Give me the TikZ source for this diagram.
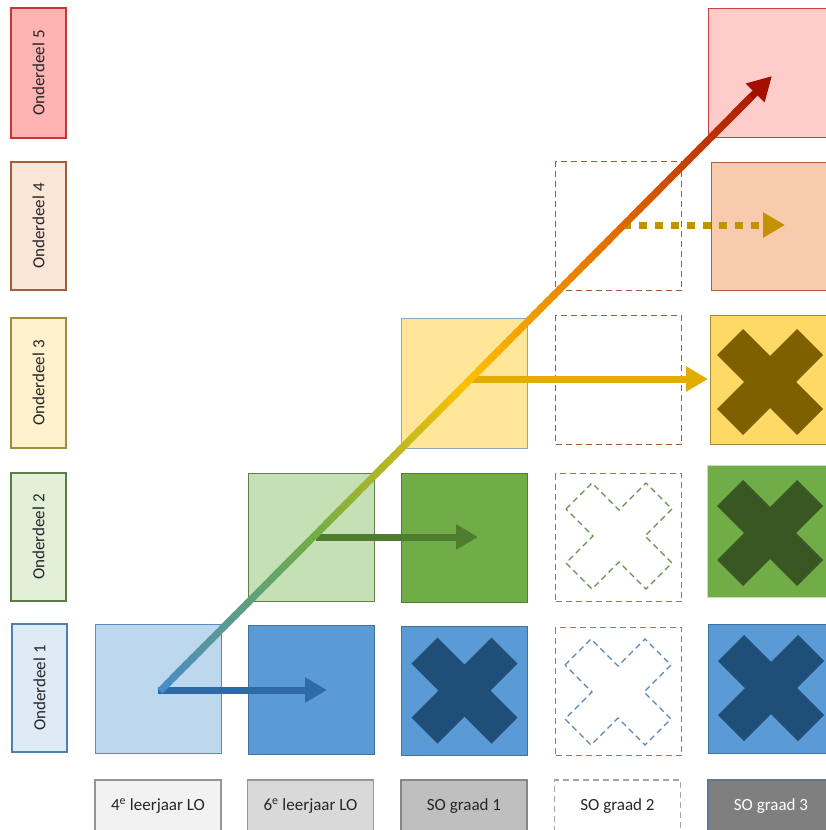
\documentclass[tikz,border=0pt]{standalone}
\usepackage{fontspec}
\setmainfont{Carlito}
\usetikzlibrary{arrows.meta,calc}
\definecolor{txt}{HTML}{262626}
\definecolor{lab5f}{HTML}{FFB3B3}\definecolor{lab5d}{HTML}{CC3333}
\definecolor{lab4f}{HTML}{FBE5D6}\definecolor{lab4d}{HTML}{A0603A}
\definecolor{lab3f}{HTML}{FFF2CC}\definecolor{lab3d}{HTML}{A08C3C}
\definecolor{lab2f}{HTML}{E2F0D9}\definecolor{lab2d}{HTML}{5A7D45}
\definecolor{lab1f}{HTML}{DEEBF7}\definecolor{lab1d}{HTML}{4F7FB0}
\definecolor{bluL}{HTML}{BDD7EE}\definecolor{bluLd}{HTML}{5B8AC0}
\definecolor{bluM}{HTML}{5B9BD5}\definecolor{bluMd}{HTML}{41719C}
\definecolor{bluX}{HTML}{1F4E79}
\definecolor{grnL}{HTML}{C5E0B4}\definecolor{grnLd}{HTML}{5E7F47}
\definecolor{grnM}{HTML}{70AD47}\definecolor{grnMd}{HTML}{507E32}
\definecolor{grnX}{HTML}{385723}
\definecolor{yelL}{HTML}{FFE699}\definecolor{yelLd}{HTML}{8FA5C0}
\definecolor{yelM}{HTML}{FFD966}\definecolor{yelMd}{HTML}{A08C30}
\definecolor{yelX}{HTML}{7F6000}
\definecolor{orM}{HTML}{F8CBAD}\definecolor{orMd}{HTML}{A8643A}
\definecolor{redM}{HTML}{FFCCCC}\definecolor{redMd}{HTML}{D04040}
\definecolor{dashB}{HTML}{5B87B5}\definecolor{dashG}{HTML}{6A8E50}
\definecolor{dashR}{HTML}{9E5B36}\definecolor{dashK}{HTML}{A6A6A6}
\definecolor{b1}{HTML}{F2F2F2}\definecolor{b2}{HTML}{D9D9D9}
\definecolor{b3}{HTML}{BFBFBF}\definecolor{b5}{HTML}{7F7F7F}
\definecolor{bd}{HTML}{959595}\definecolor{b5d}{HTML}{5B7A99}
\definecolor{arB}{HTML}{2E6BA6}\definecolor{arG}{HTML}{4E7D30}
\definecolor{arY}{HTML}{E2AC00}\definecolor{arD}{HTML}{C29200}
\definecolor{g0}{HTML}{4A8CC8}\definecolor{g1}{HTML}{70AD47}
\definecolor{g2}{HTML}{FFC000}\definecolor{g3}{HTML}{E06A00}
\definecolor{g4}{HTML}{A50F00}
\tikzset{
  lab/.style={rotate=90, minimum width=129pt, minimum height=55pt, inner sep=0pt,
    line width=1.1pt, font=\fontsize{17}{20}\selectfont, text=txt},
  cell/.style={minimum width=126pt, minimum height=129pt, inner sep=0pt,
    anchor=north west, line width=1.1pt},
  bot/.style={minimum width=126pt, minimum height=52pt, inner sep=0pt,
    line width=1.1pt, font=\fontsize{17}{20}\selectfont, text=txt},
  dashbox/.style={dash pattern=on 6pt off 4pt, line width=1.2pt},
  harrow/.style={line width=7pt, -{Triangle[length=22pt,width=24pt]}},
}
\newcommand{\mulx}[3]{%
  \path[#1, shift={(#2,#3)}] (-53,-27) -- (-27,-53) -- (0,-26) -- (27,-53) -- (53,-27)
    -- (26,0) -- (53,27) -- (27,53) -- (0,26) -- (-27,53) -- (-53,27) -- (-26,0) -- cycle;}
\begin{document}
\begin{tikzpicture}[x=1pt,y=-1pt]
\useasboundingbox (0,0) rectangle (826,830);
\clip (0,0) rectangle (826,830);
% row labels
\node[lab, fill=lab5f, draw=lab5d, minimum width=130pt] (o5) at (38.5,73) {Onderdeel 5};
\node[lab, fill=lab4f, draw=lab4d, minimum width=128pt] (o4) at (38.5,226) {Onderdeel 4};
\node[lab, fill=lab3f, draw=lab3d, minimum width=130pt] (o3) at (38.5,383) {Onderdeel 3};
\node[lab, fill=lab2f, draw=lab2d, minimum width=128pt] (o2) at (38.5,537) {Onderdeel 2};
\node[lab, fill=lab1f, draw=lab1d, minimum width=128pt] (o1) at (39.5,688) {Onderdeel 1};
% row 1
\node[cell, fill=bluL, draw=bluLd] (c11) at (95,624) {};
\node[cell, fill=bluM, draw=bluMd] (c21) at (248,625) {};
\node[cell, fill=bluM, draw=bluMd] (c31) at (401,626) {};
\node[cell, draw=dashB, dashbox, minimum height=128pt] (c41) at (555,627) {};
\node[cell, fill=bluM, draw=bluMd] (c51) at (708,624) {};
% row 2
\node[cell, fill=grnL, draw=grnLd, minimum height=128pt] (c22) at (248,473) {};
\node[cell, fill=grnM, draw=grnMd] (c32) at (401,473) {};
\node[cell, draw=dashG, dashbox, minimum height=128pt] (c42) at (555,473) {};
\node[cell, fill=grnM, draw=grnL, minimum height=132pt] (c52) at (707,465) {};
% row 3
\node[cell, fill=yelL, draw=yelLd, minimum height=130pt] (c33) at (401,318) {};
\node[cell, draw=dashR, dashbox] (c43) at (555,315) {};
\node[cell, fill=yelM, draw=yelMd] (c53) at (710,315) {};
% row 4
\node[cell, draw=dashR, dashbox] (c44) at (555,161) {};
\node[cell, fill=orM, draw=orMd, minimum height=128pt] (c54) at (711,162) {};
% row 5
\node[cell, fill=redM, draw=redMd] (c55) at (708,8) {};
% crosses
\mulx{fill=bluX}{464.5}{690.5}
\mulx{fill=bluX}{771}{688}
\mulx{fill=grnX}{770}{533}
\mulx{fill=yelX}{770}{382}
\mulx{draw=dashB, dashbox, fill=white}{618}{692}
\mulx{draw=dashG, dashbox, fill=white}{619}{536}
% bottom labels
\node[bot, fill=b1, draw=bd] (l1) at (158,806) {4\textsuperscript{e} leerjaar LO};
\node[bot, fill=b2, draw=bd] (l2) at (310.5,806) {6\textsuperscript{e} leerjaar LO};
\node[bot, fill=b3, draw=bd!90!black] (l3) at (464,806) {SO graad 1};
\node[bot, draw=dashK, dashbox] (l4) at (617.5,806) {SO graad 2};
\node[bot, fill=b5, draw=b5d, text=white] (l5) at (771,806) {SO graad 3};
% horizontal arrows
\coordinate (a1s) at (158,690); \coordinate (a1e) at (327,690);
\coordinate (a2s) at (316,537); \coordinate (a2e) at (478,537);
\coordinate (a3s) at (468,379); \coordinate (a3e) at (708,379);
\coordinate (a4s) at (623,225); \coordinate (a4e) at (785,225);
\draw[harrow, arB] (a1s) -- (a1e);
\draw[harrow, arG] (a2s) -- (a2e);
\draw[harrow, arY] (a3s) -- (a3e);
\draw[harrow, arD, dash pattern=on 8pt off 8pt] (a4s) -- (a4e);
% main gradient arrow
\coordinate (ms) at (160,691); \coordinate (me) at (772,76);
\draw[line width=7pt, g4, -{Triangle[length=24pt,width=25pt]}] ($(ms)!0.9!(me)$) -- (me);
\foreach \i in {0,...,95} {
  \pgfmathsetmacro{\ta}{\i/100}
  \pgfmathsetmacro{\tb}{min((\i+1.6)/100,0.966)}
  \pgfmathsetmacro{\tm}{(\i+0.5)/100*4}
  \pgfmathtruncatemacro{\sg}{floor(\tm)}
  \pgfmathtruncatemacro{\sn}{\sg+1}
  \pgfmathsetmacro{\pc}{(\tm-\sg)*100}
  \draw[line width=7pt, draw=g\sn!\pc!g\sg] ($(ms)!\ta!(me)$) -- ($(ms)!\tb!(me)$);
}
\end{tikzpicture}
\end{document}
